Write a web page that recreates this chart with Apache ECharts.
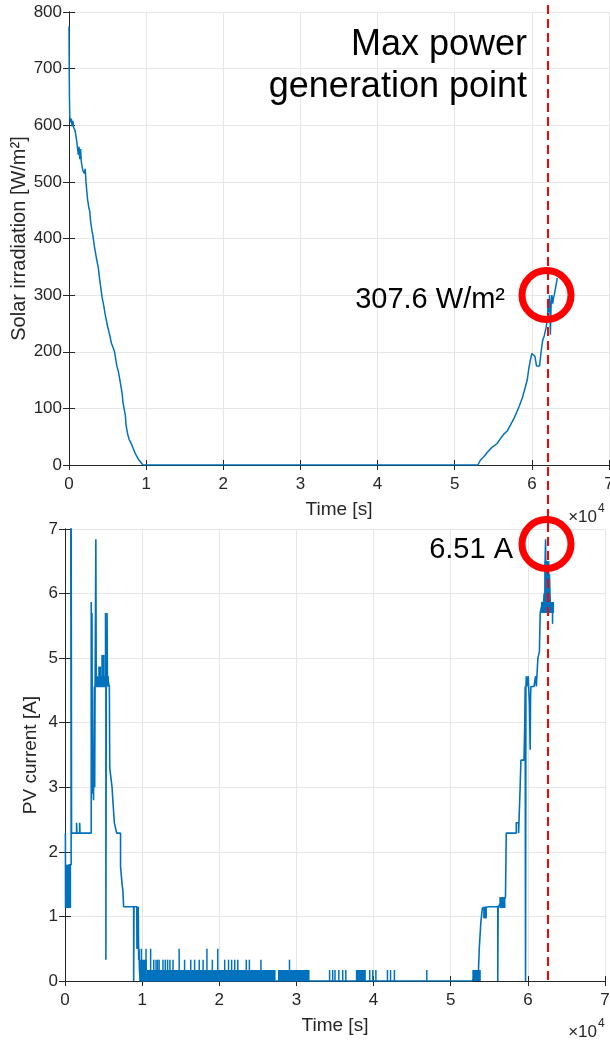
<!DOCTYPE html>
<html>
<head>
<meta charset="utf-8">
<script src="https://cdn.jsdelivr.net/npm/echarts@6/dist/echarts.min.js"></script>
<style>
  html, body { margin: 0; padding: 0; background: #fff; }
  #main { width: 610px; height: 1042px; }
</style>
</head>
<body>
<div id="main"></div>
<script>
// time axis in units of 1e4 s
const timeTicks = [0, 1, 2, 3, 4, 5, 6, 7];

// solar irradiation trace [t (x1e4 s), W/m2]
const irradiation = [
  [0, 775], [0.003, 700], [0.006, 650], [0.01, 615], [0.02, 605], [0.03, 612], [0.04, 598],
  [0.05, 608], [0.06, 596], [0.08, 590], [0.1, 572], [0.11, 560], [0.12, 548], [0.13, 562],
  [0.14, 540], [0.15, 558], [0.16, 535], [0.18, 520], [0.2, 515], [0.21, 523], [0.22, 500],
  [0.24, 470], [0.26, 452], [0.27, 448], [0.28, 430], [0.3, 412], [0.31, 405], [0.33, 385],
  [0.36, 362], [0.38, 348], [0.4, 325], [0.43, 295], [0.45, 282], [0.47, 265], [0.5, 245],
  [0.53, 228], [0.55, 215], [0.57, 208], [0.59, 200], [0.62, 175], [0.64, 165], [0.66, 150],
  [0.69, 125], [0.7, 110], [0.72, 95], [0.73, 88], [0.74, 70], [0.76, 55], [0.78, 45], [0.8, 40],
  [0.83, 30], [0.86, 20], [0.9, 10], [0.93, 5], [0.96, 0], [5.3, 0], [5.33, 8], [5.38, 15],
  [5.42, 22], [5.46, 28], [5.5, 33], [5.55, 38], [5.6, 48], [5.64, 55], [5.68, 60], [5.72, 70],
  [5.76, 80], [5.8, 92], [5.84, 105], [5.88, 120], [5.91, 135], [5.94, 150], [5.96, 170],
  [5.98, 185], [6.0, 197], [6.02, 198], [6.04, 192], [6.06, 175], [6.08, 172], [6.1, 175],
  [6.12, 200], [6.14, 220], [6.16, 228], [6.18, 240], [6.2, 255], [6.21, 280], [6.22, 270],
  [6.23, 300], [6.24, 230], [6.25, 285], [6.26, 300], [6.27, 285], [6.28, 295], [6.29, 300],
  [6.31, 315], [6.33, 330]
];

// PV current main trace [t, A]
const currentTrace = [
  [0.005, 2.29], [0.007, 1.13], [0.01, 1.8], [0.03, 1.13], [0.05, 1.8], [0.08, 1.8],
  [0.075, 6.86], [0.08, 7.3], [0.085, 7.3], [0.085, 2.29],
  [0.15, 2.29], [0.15, 2.45], [0.155, 2.29], [0.19, 2.29], [0.19, 2.45], [0.195, 2.29],
  [0.34, 2.29], [0.34, 5.87], [0.345, 3.5], [0.35, 5.7], [0.355, 2.9], [0.36, 3.6],
  [0.37, 2.8], [0.38, 4.56], [0.385, 3.0], [0.39, 4.56], [0.40, 6.84], [0.405, 4.56],
  [0.53, 4.56], [0.53, 0.33], [0.535, 4.56], [0.545, 5.7], [0.55, 4.7], [0.575, 4.56],
  [0.58, 3.3], [0.60, 3.3], [0.61, 3.0], [0.62, 2.8], [0.63, 2.8], [0.64, 2.45], [0.66, 2.45],
  [0.67, 2.29], [0.72, 2.29], [0.72, 1.77], [0.735, 1.77], [0.74, 1.5], [0.75, 1.4],
  [0.76, 1.15], [0.89, 1.15], [0.89, 0], [0.895, 1.15], [0.93, 1.15], [0.935, 0.5],
  [0.94, 1.15], [0.945, 0.5], [0.95, 1.0], [0.955, 0.33], [0.96, 0.5], [0.965, 0.17],
  [0.975, 0], [5.28, 0], [5.36, 0.17], [5.37, 0.5], [5.38, 0.5], [5.39, 0.9], [5.41, 1.13],
  [5.42, 1.15], [5.5, 1.15], [5.61, 1.15], [5.61, 0], [5.615, 1.15], [5.63, 1.15],
  [5.71, 1.3], [5.72, 2.29], [5.85, 2.29], [5.85, 2.45], [5.88, 2.45], [5.88, 2.29],
  [5.89, 2.29], [5.9, 3.0], [5.91, 3.42], [5.95, 3.42], [5.96, 4.0], [5.965, 4.56],
  [5.97, 4.56], [5.97, 0], [5.975, 4.56], [5.98, 4.72], [5.985, 4.56], [6.0, 4.56],
  [6.005, 4.72], [6.01, 4.56], [6.02, 4.3], [6.03, 3.58], [6.035, 4.4], [6.04, 4.56],
  [6.08, 4.56], [6.1, 4.72], [6.11, 4.56], [6.12, 4.56], [6.13, 5.0], [6.15, 5.1],
  [6.16, 5.7], [6.18, 5.7], [6.19, 5.87], [6.2, 5.7], [6.21, 6.0], [6.22, 5.7],
  [6.225, 6.6], [6.23, 6.84], [6.235, 6.0], [6.24, 6.5], [6.25, 5.87], [6.26, 6.5],
  [6.27, 5.7], [6.28, 6.3], [6.29, 5.87], [6.30, 5.7], [6.31, 5.87], [6.32, 5.7],
  [6.32, 5.54], [6.33, 5.54]
];

// dense switching regions [t0, t1, low, high]
const currentBands = [
  [0.01, 0.08, 1.13, 1.80],
  [0.40, 0.57, 4.56, 4.72],
  [0.43, 0.47, 4.56, 4.87],
  [0.47, 0.515, 4.56, 5.05],
  [0.515, 0.54, 4.56, 5.70],
  [0.925, 0.96, 0.50, 1.15],
  [0.965, 1.06, 0, 0.33],
  [1.06, 2.73, 0, 0.17],
  [2.76, 3.17, 0, 0.17],
  [3.77, 3.90, 0, 0.17],
  [5.28, 5.39, 0, 0.17],
  [5.42, 5.47, 0.97, 1.15],
  [5.63, 5.71, 1.13, 1.30],
  [6.17, 6.34, 5.70, 5.87],
  [6.215, 6.28, 5.70, 6.50]
];

// isolated spikes [t, low, high]
const currentSpikes = [
  [1.11, 0, 0.5], [1.15, 0, 0.33], [1.18, 0, 0.33], [1.2, 0, 0.33], [1.22, 0, 0.33],
  [1.27, 0, 0.33], [1.3, 0, 0.33], [1.33, 0, 0.33], [1.36, 0, 0.33], [1.4, 0, 0.33],
  [1.48, 0, 0.5], [1.55, 0, 0.33], [1.63, 0, 0.33], [1.68, 0, 0.33], [1.74, 0, 0.33],
  [1.79, 0, 0.33], [1.84, 0, 0.5], [1.91, 0, 0.33], [1.98, 0, 0.5], [2.07, 0, 0.33],
  [2.12, 0, 0.33], [2.16, 0, 0.33], [2.2, 0, 0.33], [2.24, 0, 0.33], [2.35, 0, 0.33],
  [2.39, 0, 0.33], [2.54, 0, 0.33], [2.91, 0, 0.33], [0.99, 0, 0.5], [1.05, 0, 0.5],
  [3.43, 0, 0.17], [3.47, 0, 0.17], [3.5, 0, 0.17], [3.55, 0, 0.17], [3.6, 0, 0.17],
  [3.64, 0, 0.17], [3.95, 0, 0.17], [3.99, 0, 0.17], [4.03, 0, 0.17], [4.18, 0, 0.17],
  [4.22, 0, 0.17], [4.27, 0, 0.17], [4.69, 0, 0.17]
];

const blue = '#0072BD';
const ink = '#262626';
const font = "'Liberation Sans', Arial, sans-serif";

const chart = echarts.init(document.getElementById('main'));

function xAxisPair(grid) {
  const base = {
    gridIndex: grid, type: 'value', min: 0, max: 7, interval: 1,
    axisLine: { show: true, lineStyle: { color: ink, width: 1 } },
    axisTick: { show: true, inside: true, length: 5, lineStyle: { color: ink } }
  };
  return [
    Object.assign({}, base, {
      position: 'bottom',
      axisLabel: { margin: 11, fontSize: 17, color: ink, fontFamily: font },
      splitLine: { show: true, lineStyle: { color: '#e6e6e6', width: 1 } },
      name: 'Time [s]', nameLocation: 'middle', nameGap: 35, nameMoveOverlap: false,
      nameTextStyle: { fontSize: 19, color: ink, fontFamily: font }
    }),
    Object.assign({}, base, { position: 'top', axisLabel: { show: false }, splitLine: { show: false } })
  ];
}

function yAxisPair(grid, max, interval, name, gap, nameSize) {
  const base = {
    gridIndex: grid, type: 'value', min: 0, max: max, interval: interval,
    axisLine: { show: true, lineStyle: { color: ink, width: 1 } },
    axisTick: { show: true, inside: true, length: 6, lineStyle: { color: ink } }
  };
  return [
    Object.assign({}, base, {
      position: 'left',
      axisLabel: { margin: 7, fontSize: 17, color: ink, fontFamily: font },
      splitLine: { show: true, lineStyle: { color: '#e6e6e6', width: 1 } },
      name: name, nameLocation: 'middle', nameGap: gap, nameMoveOverlap: false,
      nameTextStyle: { fontSize: nameSize, color: ink, fontFamily: font }
    }),
    Object.assign({}, base, { position: 'right', axisLabel: { show: false }, splitLine: { show: false } })
  ];
}

function bandItem(params, api) {
  const a = api.coord([api.value(0), api.value(3)]);
  const b = api.coord([api.value(1), api.value(2)]);
  return { type: 'rect', shape: { x: a[0], y: a[1], width: b[0] - a[0], height: b[1] - a[1] }, style: { fill: blue } };
}

function spikeItem(params, api) {
  const a = api.coord([api.value(0), api.value(1)]);
  const b = api.coord([api.value(0), api.value(2)]);
  return { type: 'line', shape: { x1: a[0], y1: a[1], x2: b[0], y2: b[1] }, style: { stroke: blue, lineWidth: 1.5 } };
}

const option = {
  animation: false,
  backgroundColor: '#fff',
  textStyle: { fontFamily: font },
  grid: [
    { left: 69, top: 12, width: 540, height: 453, outerBoundsMode: 'none', containLabel: false },
    { left: 65, top: 529, width: 540, height: 452, outerBoundsMode: 'none', containLabel: false }
  ],
  xAxis: xAxisPair(0).concat(xAxisPair(1)),
  yAxis: yAxisPair(0, 800, 100, 'Solar irradiation [W/m²]', 40, 20)
    .concat(yAxisPair(1, 7, 1, 'PV current [A]', 25, 19)),
  series: [
    {
      type: 'line', xAxisIndex: 0, yAxisIndex: 0, data: irradiation,
      showSymbol: false, symbol: 'none', lineStyle: { color: blue, width: 1.5 }, clip: true
    },
    {
      type: 'line', xAxisIndex: 2, yAxisIndex: 2, data: currentTrace,
      showSymbol: false, symbol: 'none', lineStyle: { color: blue, width: 1.6 }, clip: true
    },
    {
      type: 'custom', xAxisIndex: 2, yAxisIndex: 2, data: currentBands,
      encode: { x: [0, 1], y: [2, 3] }, renderItem: bandItem, clip: true
    },
    {
      type: 'custom', xAxisIndex: 2, yAxisIndex: 2, data: currentSpikes,
      encode: { x: 0, y: [1, 2] }, renderItem: spikeItem, clip: true
    }
  ],
  graphic: [
    { type: 'line', z: 100, shape: { x1: 548, y1: 5, x2: 548, y2: 981 },
      style: { stroke: '#ff0000', lineWidth: 2, lineDash: [9, 5] } },
    { type: 'circle', z: 101, shape: { cx: 546.5, cy: 295, r: 24.5 },
      style: { fill: 'none', stroke: '#ff0000', lineWidth: 7 } },
    { type: 'circle', z: 101, shape: { cx: 546.5, cy: 544, r: 24.5 },
      style: { fill: 'none', stroke: '#ff0000', lineWidth: 7 } },
    { type: 'text', z: 102, style: { text: 'Max power', x: 527, y: 45, textAlign: 'right', textVerticalAlign: 'middle', font: '36px ' + font, fill: '#000' } },
    { type: 'text', z: 102, style: { text: 'generation point', x: 527, y: 87, textAlign: 'right', textVerticalAlign: 'middle', font: '36px ' + font, fill: '#000' } },
    { type: 'text', z: 102, style: { text: '307.6 W/m²', x: 505, y: 300, textAlign: 'right', textVerticalAlign: 'middle', font: '29px ' + font, fill: '#000' } },
    { type: 'text', z: 102, style: { text: '6.51 A', x: 513, y: 550, textAlign: 'right', textVerticalAlign: 'middle', font: '29px ' + font, fill: '#000' } },
    { type: 'text', z: 102, style: { text: '×10', x: 597, y: 517, textAlign: 'right', textVerticalAlign: 'middle', font: '17px ' + font, fill: ink } },
    { type: 'text', z: 102, style: { text: '4', x: 598, y: 509, textAlign: 'left', textVerticalAlign: 'middle', font: '12px ' + font, fill: ink } },
    { type: 'text', z: 102, style: { text: '×10', x: 597, y: 1032, textAlign: 'right', textVerticalAlign: 'middle', font: '17px ' + font, fill: ink } },
    { type: 'text', z: 102, style: { text: '4', x: 598, y: 1024, textAlign: 'left', textVerticalAlign: 'middle', font: '12px ' + font, fill: ink } }
  ]
};

chart.setOption(option);
</script>
</body>
</html>
